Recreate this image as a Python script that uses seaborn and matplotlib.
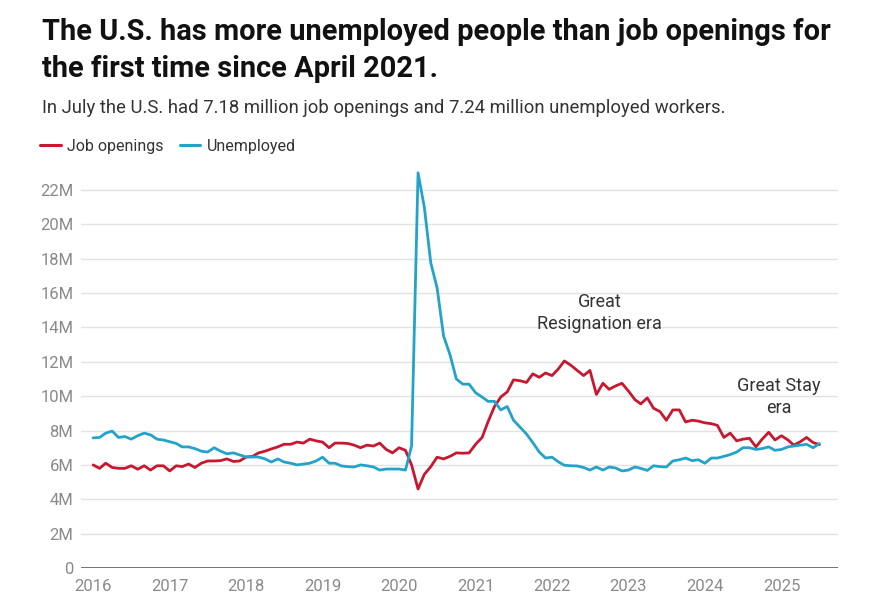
import pandas as pd
import numpy as np
import matplotlib
matplotlib.use('Agg')
import matplotlib.pyplot as plt
import seaborn as sns

# monthly values, Jan 2016 - Jul 2025 (millions)
months = pd.date_range('2016-01-01', '2025-07-01', freq='MS')

job_openings = [
    6.0, 5.8, 6.1, 5.85, 5.8, 5.8, 5.95, 5.75, 5.95, 5.7, 5.95, 5.95,      # 2016
    5.65, 5.95, 5.9, 6.05, 5.85, 6.1, 6.23, 6.23, 6.25, 6.35, 6.2, 6.23,   # 2017
    6.46, 6.5, 6.7, 6.8, 6.93, 7.05, 7.2, 7.2, 7.33, 7.27, 7.5, 7.4,       # 2018
    7.33, 7.0, 7.27, 7.27, 7.25, 7.15, 7.0, 7.15, 7.1, 7.27, 6.9, 6.7,     # 2019
    7.0, 6.85, 6.0, 4.6, 5.45, 5.9, 6.45, 6.35, 6.5, 6.7, 6.68, 6.7,       # 2020
    7.2, 7.6, 8.5, 9.4, 9.95, 10.25, 10.95, 10.9, 10.8, 11.3, 11.1, 11.35, # 2021
    11.2, 11.6, 12.05, 11.8, 11.5, 11.2, 11.5, 10.1, 10.75, 10.4, 10.6, 10.75,  # 2022
    10.3, 9.8, 9.55, 9.9, 9.3, 9.1, 8.6, 9.2, 9.2, 8.5, 8.6, 8.55,         # 2023
    8.45, 8.4, 8.3, 7.6, 7.85, 7.4, 7.5, 7.55, 7.05, 7.5, 7.9, 7.45,       # 2024
    7.7, 7.45, 7.15, 7.35, 7.6, 7.3, 7.18,                                 # 2025
]

unemployed = [
    7.57, 7.6, 7.85, 7.97, 7.6, 7.65, 7.5, 7.7, 7.85, 7.75, 7.5, 7.45,     # 2016
    7.35, 7.25, 7.05, 7.05, 6.95, 6.8, 6.75, 7.0, 6.8, 6.65, 6.7, 6.58,    # 2017
    6.46, 6.46, 6.46, 6.35, 6.17, 6.35, 6.17, 6.1, 6.0, 6.05, 6.1, 6.23,   # 2018
    6.45, 6.1, 6.1, 5.94, 5.9, 5.88, 6.0, 5.95, 5.88, 5.7, 5.76, 5.76,     # 2019
    5.76, 5.7, 7.1, 23.0, 21.0, 17.75, 16.3, 13.5, 12.4, 11.0, 10.7, 10.7, # 2020
    10.2, 9.95, 9.7, 9.7, 9.2, 9.4, 8.6, 8.2, 7.8, 7.3, 6.75, 6.4,         # 2021
    6.45, 6.17, 5.98, 5.95, 5.94, 5.85, 5.7, 5.88, 5.7, 5.88, 5.82, 5.65,  # 2022
    5.7, 5.88, 5.8, 5.68, 5.95, 5.9, 5.88, 6.23, 6.3, 6.4, 6.25, 6.3,      # 2023
    6.1, 6.4, 6.4, 6.5, 6.6, 6.75, 7.0, 7.0, 6.9, 6.95, 7.05, 6.85,        # 2024
    6.9, 7.05, 7.1, 7.15, 7.2, 7.0, 7.24,                                  # 2025
]

series_names = ['Job openings', 'Unemployed']
colors = {'Job openings': '#c8172e', 'Unemployed': '#23a3c9'}
years = list(range(2016, 2026))
y_ticks = list(range(0, 24, 2))

df = pd.DataFrame({'date': list(months) * 2,
                   'value': job_openings + unemployed,
                   'series': ['Job openings'] * len(months) + ['Unemployed'] * len(months)})

sns.set_theme(style='white')
plt.rcParams['font.family'] = ['Roboto', 'DejaVu Sans']

fig = plt.figure(figsize=(8.72, 6.12), dpi=100)
ax = fig.add_axes([81 / 872, 44 / 612, 757 / 872, 0.6513])

sns.lineplot(data=df, x='date', y='value', hue='series', palette=colors,
             hue_order=series_names, linewidth=2.0, ax=ax, legend=False)

ax.set_xlim(pd.Timestamp('2015-11-04'), pd.Timestamp('2025-09-28'))
ax.set_ylim(0, 23.2)
ax.set_yticks(y_ticks)
ax.set_yticklabels(['0'] + [f'{v}M' for v in y_ticks[1:]])
ax.set_xticks([pd.Timestamp(f'{y}-01-01') for y in years])
ax.set_xticklabels([str(y) for y in years])
ax.tick_params(axis='both', length=0, labelsize=12, colors='#8a8a8a')
ax.tick_params(axis='y', pad=5.5)
ax.tick_params(axis='x', pad=8)
ax.grid(axis='y', color='#e2e2e2', linewidth=1)
ax.set_axisbelow(True)
for s in ['top', 'right', 'left', 'bottom']:
    ax.spines[s].set_visible(False)
ax.axhline(0, color='#666666', linewidth=2, zorder=1)
ax.set_xlabel('')
ax.set_ylabel('')

# annotations
ax.text(pd.Timestamp('2022-08-15'), 14.85, 'Great\nResignation era', ha='center', va='center',
        fontsize=13, color='#333333', linespacing=1.25)
ax.text(pd.Timestamp('2024-12-20'), 9.95, 'Great Stay\nera', ha='center', va='center',
        fontsize=13, color='#333333', linespacing=1.25)

# title, subtitle, legend
fig.text(42 / 872, 1 - 18 / 612, 'The U.S. has more unemployed people than job openings for\nthe first time since April 2021.',
         ha='left', va='top', fontsize=20.9, fontweight='bold', color='#111111', linespacing=1.42)
fig.text(42 / 872, 1 - 108 / 612, 'In July the U.S. had 7.18 million job openings and 7.24 million unemployed workers.',
         ha='left', va='center', fontsize=13.3, color='#333333')

handles = [plt.Line2D([], [], color=colors[n], linewidth=2.2) for n in series_names]
fig.legend(handles, series_names, loc='center left', bbox_to_anchor=(40 / 872, 1 - 146 / 612),
           ncol=2, frameon=False, handlelength=1.3, handletextpad=0.4, columnspacing=1.0,
           fontsize=11.5, labelcolor='#333333', borderpad=0, borderaxespad=0)

plt.savefig('out.png', dpi=100, facecolor='white')
